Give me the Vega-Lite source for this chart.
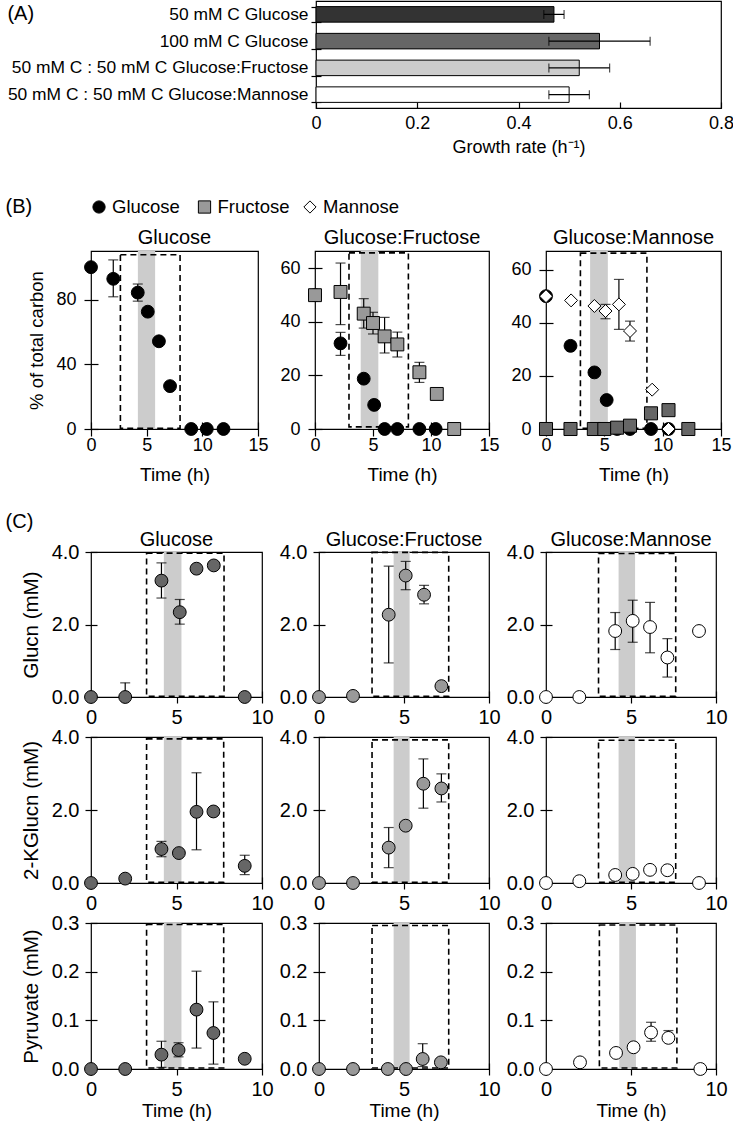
{
 "$schema": "https://vega.github.io/schema/vega-lite/v6.json",
 "padding": {"left": 5, "top": 0, "right": 0, "bottom": 0},
 "background": "white",
 "config": {
  "font": "Liberation Sans",
  "view": {"stroke": "black", "strokeWidth": 1.2},
  "axis": {"domain": false, "grid": false, "tickColor": "black", "tickWidth": 1.2, "labelColor": "black", "titleColor": "black", "titleFontWeight": "normal"},
  "title": {"fontWeight": "normal", "color": "black", "baseline": "bottom"}
 },
 "resolve": {"scale": {"fill": "independent", "shape": "independent", "size": "independent"}},
 "spacing": 40,
 "datasets": {
  "growth": [
   {"cond": "50 mM C Glucose", "rate": 0.47, "lo": 0.45, "hi": 0.49},
   {"cond": "100 mM C Glucose", "rate": 0.56, "lo": 0.46, "hi": 0.66},
   {"cond": "50 mM C : 50 mM C Glucose:Fructose", "rate": 0.52, "lo": 0.46, "hi": 0.58},
   {"cond": "50 mM C : 50 mM C Glucose:Mannose", "rate": 0.50, "lo": 0.46, "hi": 0.54}
  ],
  "legend": [{"s": "Glucose"}, {"s": "Fructose"}, {"s": "Mannose"}],
  "B": [
   {"p": "G", "s": "Glucose", "t": 0, "v": 100},
   {"p": "G", "s": "Glucose", "t": 2.0, "v": 92.8, "lo": 81.7, "hi": 104.5},
   {"p": "G", "s": "Glucose", "t": 4.2, "v": 84.3, "lo": 79, "hi": 89.6},
   {"p": "G", "s": "Glucose", "t": 5.1, "v": 72.5},
   {"p": "G", "s": "Glucose", "t": 6.1, "v": 54.2},
   {"p": "G", "s": "Glucose", "t": 7.1, "v": 26.5},
   {"p": "G", "s": "Glucose", "t": 9.0, "v": 0},
   {"p": "G", "s": "Glucose", "t": 10.4, "v": 0},
   {"p": "G", "s": "Glucose", "t": 11.9, "v": 0},
   {"p": "GF", "s": "Glucose", "t": 0, "v": 50},
   {"p": "GF", "s": "Glucose", "t": 2.2, "v": 32, "lo": 27.5, "hi": 36.1},
   {"p": "GF", "s": "Glucose", "t": 4.2, "v": 18.8},
   {"p": "GF", "s": "Glucose", "t": 5.1, "v": 9.0},
   {"p": "GF", "s": "Glucose", "t": 6.0, "v": 0},
   {"p": "GF", "s": "Glucose", "t": 7.1, "v": 0},
   {"p": "GF", "s": "Glucose", "t": 9.0, "v": 0},
   {"p": "GF", "s": "Glucose", "t": 10.4, "v": 0},
   {"p": "GF", "s": "Fructose", "t": 0, "v": 50},
   {"p": "GF", "s": "Fructose", "t": 2.2, "v": 51.2, "lo": 39, "hi": 62},
   {"p": "GF", "s": "Fructose", "t": 4.2, "v": 43.1, "lo": 37.7, "hi": 48.7},
   {"p": "GF", "s": "Fructose", "t": 5.0, "v": 39.6, "lo": 35.5, "hi": 43.6},
   {"p": "GF", "s": "Fructose", "t": 6.0, "v": 34.6, "lo": 28.4, "hi": 41.7},
   {"p": "GF", "s": "Fructose", "t": 7.1, "v": 31.6, "lo": 26.9, "hi": 36.2},
   {"p": "GF", "s": "Fructose", "t": 9.0, "v": 21.2, "lo": 17.4, "hi": 24.9},
   {"p": "GF", "s": "Fructose", "t": 10.5, "v": 13.1, "lo": 11.6, "hi": 14.6},
   {"p": "GF", "s": "Fructose", "t": 12.0, "v": 0},
   {"p": "GM", "s": "Glucose", "t": 0, "v": 50},
   {"p": "GM", "s": "Glucose", "t": 2.1, "v": 31.3},
   {"p": "GM", "s": "Glucose", "t": 4.15, "v": 21.3},
   {"p": "GM", "s": "Glucose", "t": 5.2, "v": 10.9},
   {"p": "GM", "s": "Glucose", "t": 6.1, "v": 0},
   {"p": "GM", "s": "Glucose", "t": 7.2, "v": 0},
   {"p": "GM", "s": "Glucose", "t": 9.0, "v": 0},
   {"p": "GM", "s": "Glucose", "t": 10.5, "v": 0},
   {"p": "GM", "s": "Fructose (G:M)", "t": 0, "v": 0},
   {"p": "GM", "s": "Fructose (G:M)", "t": 2.1, "v": 0},
   {"p": "GM", "s": "Fructose (G:M)", "t": 4.1, "v": 0},
   {"p": "GM", "s": "Fructose (G:M)", "t": 5.0, "v": 0},
   {"p": "GM", "s": "Fructose (G:M)", "t": 6.1, "v": 0.5},
   {"p": "GM", "s": "Fructose (G:M)", "t": 7.2, "v": 1.25},
   {"p": "GM", "s": "Fructose (G:M)", "t": 9.0, "v": 5.9},
   {"p": "GM", "s": "Fructose (G:M)", "t": 10.5, "v": 7.1},
   {"p": "GM", "s": "Fructose (G:M)", "t": 12.2, "v": 0},
   {"p": "GM", "s": "Mannose", "t": 0, "v": 50},
   {"p": "GM", "s": "Mannose", "t": 2.15, "v": 48.4},
   {"p": "GM", "s": "Mannose", "t": 4.15, "v": 46.3},
   {"p": "GM", "s": "Mannose", "t": 5.1, "v": 44.4, "lo": 41.5, "hi": 46.9},
   {"p": "GM", "s": "Mannose", "t": 6.25, "v": 46.9, "lo": 37.5, "hi": 56.3},
   {"p": "GM", "s": "Mannose", "t": 7.2, "v": 36.9, "lo": 33.1, "hi": 40.6},
   {"p": "GM", "s": "Mannose", "t": 9.1, "v": 14.8},
   {"p": "GM", "s": "Mannose", "t": 10.5, "v": 0}
  ],
  "Bbox": [
   {"p": "G", "b1": 4.21, "b2": 5.76, "d1": 2.64, "d2": 8.0, "e1": 0.5, "e2": 107.7},
   {"p": "GF", "b1": 3.94, "b2": 5.46, "d1": 2.93, "d2": 8.05, "e1": 0.8, "e2": 65.8},
   {"p": "GM", "b1": 3.78, "b2": 5.3, "d1": 2.95, "d2": 8.65, "e1": 0.3, "e2": 66.2}
  ],
  "C": [
   {"c": "G", "r": "Glucn", "t": 0, "v": 0},
   {"c": "G", "r": "Glucn", "t": 2.0, "v": 0, "lo": 0, "hi": 0.39},
   {"c": "G", "r": "Glucn", "t": 4.12, "v": 3.21, "lo": 2.73, "hi": 3.7},
   {"c": "G", "r": "Glucn", "t": 5.19, "v": 2.34, "lo": 2.01, "hi": 2.69},
   {"c": "G", "r": "Glucn", "t": 6.17, "v": 3.54},
   {"c": "G", "r": "Glucn", "t": 7.18, "v": 3.63},
   {"c": "G", "r": "Glucn", "t": 8.99, "v": 0},
   {"c": "GF", "r": "Glucn", "t": 0, "v": 0},
   {"c": "GF", "r": "Glucn", "t": 2.0, "v": 0.03},
   {"c": "GF", "r": "Glucn", "t": 4.1, "v": 2.27, "lo": 0.94, "hi": 3.61},
   {"c": "GF", "r": "Glucn", "t": 5.1, "v": 3.35, "lo": 2.96, "hi": 3.74},
   {"c": "GF", "r": "Glucn", "t": 6.18, "v": 2.82, "lo": 2.57, "hi": 3.08},
   {"c": "GF", "r": "Glucn", "t": 7.2, "v": 0.3},
   {"c": "GM", "r": "Glucn", "t": 0, "v": 0},
   {"c": "GM", "r": "Glucn", "t": 1.96, "v": 0},
   {"c": "GM", "r": "Glucn", "t": 4.07, "v": 1.82, "lo": 1.31, "hi": 2.33},
   {"c": "GM", "r": "Glucn", "t": 5.1, "v": 2.1, "lo": 1.51, "hi": 2.67},
   {"c": "GM", "r": "Glucn", "t": 6.12, "v": 1.93, "lo": 1.22, "hi": 2.61},
   {"c": "GM", "r": "Glucn", "t": 7.14, "v": 1.09, "lo": 0.55, "hi": 1.61},
   {"c": "GM", "r": "Glucn", "t": 9.0, "v": 1.82},
   {"c": "G", "r": "KG", "t": 0, "v": 0},
   {"c": "G", "r": "KG", "t": 2.0, "v": 0.12},
   {"c": "G", "r": "KG", "t": 4.12, "v": 0.93, "lo": 0.72, "hi": 1.14},
   {"c": "G", "r": "KG", "t": 5.14, "v": 0.82},
   {"c": "G", "r": "KG", "t": 6.17, "v": 1.95, "lo": 0.91, "hi": 3.02},
   {"c": "G", "r": "KG", "t": 7.16, "v": 1.96},
   {"c": "G", "r": "KG", "t": 8.99, "v": 0.47, "lo": 0.23, "hi": 0.76},
   {"c": "GF", "r": "KG", "t": 0, "v": 0},
   {"c": "GF", "r": "KG", "t": 2.0, "v": 0},
   {"c": "GF", "r": "KG", "t": 4.1, "v": 0.97, "lo": 0.42, "hi": 1.52},
   {"c": "GF", "r": "KG", "t": 5.1, "v": 1.57},
   {"c": "GF", "r": "KG", "t": 6.14, "v": 2.72, "lo": 2.05, "hi": 3.4},
   {"c": "GF", "r": "KG", "t": 7.2, "v": 2.59, "lo": 2.22, "hi": 2.99},
   {"c": "GM", "r": "KG", "t": 0, "v": 0},
   {"c": "GM", "r": "KG", "t": 1.96, "v": 0.05},
   {"c": "GM", "r": "KG", "t": 4.07, "v": 0.22},
   {"c": "GM", "r": "KG", "t": 5.1, "v": 0.25},
   {"c": "GM", "r": "KG", "t": 6.12, "v": 0.36},
   {"c": "GM", "r": "KG", "t": 7.14, "v": 0.35},
   {"c": "GM", "r": "KG", "t": 9.0, "v": 0},
   {"c": "G", "r": "Pyr", "t": 0, "v": 0},
   {"c": "G", "r": "Pyr", "t": 2.0, "v": 0},
   {"c": "G", "r": "Pyr", "t": 4.12, "v": 0.0295, "lo": 0.0034, "hi": 0.057},
   {"c": "G", "r": "Pyr", "t": 5.12, "v": 0.039, "lo": 0.025, "hi": 0.054},
   {"c": "G", "r": "Pyr", "t": 6.17, "v": 0.122, "lo": 0.043, "hi": 0.201},
   {"c": "G", "r": "Pyr", "t": 7.16, "v": 0.074, "lo": 0.01, "hi": 0.138},
   {"c": "G", "r": "Pyr", "t": 8.99, "v": 0.021},
   {"c": "GF", "r": "Pyr", "t": 0, "v": 0},
   {"c": "GF", "r": "Pyr", "t": 2.0, "v": 0},
   {"c": "GF", "r": "Pyr", "t": 4.05, "v": 0},
   {"c": "GF", "r": "Pyr", "t": 5.12, "v": 0},
   {"c": "GF", "r": "Pyr", "t": 6.1, "v": 0.0206, "lo": 0.005, "hi": 0.052},
   {"c": "GF", "r": "Pyr", "t": 7.17, "v": 0.0137},
   {"c": "GM", "r": "Pyr", "t": 0, "v": 0},
   {"c": "GM", "r": "Pyr", "t": 2.0, "v": 0.0137},
   {"c": "GM", "r": "Pyr", "t": 4.12, "v": 0.033},
   {"c": "GM", "r": "Pyr", "t": 5.15, "v": 0.0446},
   {"c": "GM", "r": "Pyr", "t": 6.18, "v": 0.075, "lo": 0.057, "hi": 0.096},
   {"c": "GM", "r": "Pyr", "t": 7.2, "v": 0.064, "lo": 0.06, "hi": 0.079},
   {"c": "GM", "r": "Pyr", "t": 9.08, "v": 0}
  ],
  "Cbox": [
   {"c": "G", "r": "Glucn", "b1": 4.26, "b2": 5.29, "d1": 3.25, "d2": 7.78, "e1": 0.02, "e2": 3.97},
   {"c": "GF", "r": "Glucn", "b1": 4.39, "b2": 5.33, "d1": 3.12, "d2": 7.63, "e1": 0.02, "e2": 3.99},
   {"c": "GM", "r": "Glucn", "b1": 4.27, "b2": 5.24, "d1": 3.09, "d2": 7.63, "e1": 0.02, "e2": 3.96},
   {"c": "G", "r": "KG", "b1": 4.26, "b2": 5.29, "d1": 3.25, "d2": 7.76, "e1": 0.02, "e2": 3.95},
   {"c": "GF", "r": "KG", "b1": 4.39, "b2": 5.33, "d1": 3.12, "d2": 7.63, "e1": 0.02, "e2": 3.92},
   {"c": "GM", "r": "KG", "b1": 4.27, "b2": 5.24, "d1": 3.09, "d2": 7.63, "e1": 0.02, "e2": 3.91},
   {"c": "G", "r": "Pyr", "b1": 4.26, "b2": 5.29, "d1": 3.25, "d2": 7.76, "e1": 0.002, "e2": 0.297},
   {"c": "GF", "r": "Pyr", "b1": 4.39, "b2": 5.33, "d1": 3.12, "d2": 7.63, "e1": 0.002, "e2": 0.295},
   {"c": "GM", "r": "Pyr", "b1": 4.31, "b2": 5.29, "d1": 3.14, "d2": 7.7, "e1": 0.002, "e2": 0.296}
  ]
 },
 "vconcat": [
  {
   "title": {"text": "(A)", "anchor": "start", "frame": "bounds", "fontSize": 20, "offset": -24},
   "spacing": 1,
   "data": {"name": "growth"},
   "hconcat": [
    {
     "width": 200, "height": 107,
     "view": {"stroke": null},
     "mark": {"type": "point", "opacity": 0},
     "encoding": {"y": {"field": "cond", "type": "nominal", "sort": null, "title": null, "scale": {"paddingInner": 0.42, "paddingOuter": 0.21}, "axis": {"orient": "right", "title": null, "labelAlign": "right", "ticks": false, "tickSize": 0, "labelPadding": 17, "labelFontSize": 17.4, "labelLimit": 400}}}
    },
    {
     "width": 405, "height": 107,
     "layer": [
      {"mark": {"type": "bar", "stroke": "black", "strokeWidth": 1},
       "encoding": {
        "y": {"field": "cond", "type": "nominal", "sort": null, "title": null, "scale": {"paddingInner": 0.42, "paddingOuter": 0.21}, "axis": {"title": null, "labels": false, "tickBand": "extent", "offset": -5, "tickSize": 10}},
        "x": {"field": "rate", "type": "quantitative", "title": "Growth rate (h⁻¹)", "scale": {"domain": [0, 0.8], "nice": false}, "axis": {"values": [0, 0.2, 0.4, 0.6, 0.8], "format": "~g", "labelFlush": false, "offset": -6, "tickSize": 6, "labelPadding": 6, "labelFontSize": 18, "title": "Growth rate (h⁻¹)", "titleFontSize": 18, "titlePadding": 6}},
        "fill": {"field": "cond", "type": "nominal", "sort": null, "scale": {"range": ["#333333", "#666666", "#cccccc", "#ffffff"]}, "legend": null}
       }},
      {"mark": {"type": "errorbar", "ticks": {"size": 9}, "color": "black", "thickness": 1.2},
       "encoding": {"y": {"field": "cond", "type": "nominal", "sort": null, "title": null}, "x": {"field": "lo", "type": "quantitative", "title": "Growth rate (h⁻¹)"}, "x2": {"field": "hi"}}}
     ]
    }
   ]
  },
  {
   "spacing": 27,
   "resolve": {"scale": {"fill": "independent", "shape": "independent", "size": "independent"}},
   "vconcat": [
    {
     "spacing": 10,
     "resolve": {"scale": {"fill": "independent", "shape": "independent", "size": "independent"}},
     "vconcat": [
      {
       "width": 227, "height": 20,
       "view": {"stroke": null},
       "title": {"text": "(B)", "orient": "left", "angle": 0, "align": "right", "baseline": "middle", "anchor": "middle", "offset": 32, "fontSize": 20},
       "data": {"name": "legend"},
       "encoding": {"x": {"field": "s", "type": "nominal", "sort": null, "title": null, "scale": {"type": "point", "padding": 0.076}, "axis": null}},
       "layer": [
        {"mark": {"type": "point", "filled": true, "stroke": "black", "strokeWidth": 1, "opacity": 1, "size": 150},
         "encoding": {
          "fill": {"field": "s", "type": "nominal", "scale": {"domain": ["Glucose", "Fructose", "Mannose"], "range": ["#000000", "#999999", "#ffffff"]}, "legend": null},
          "shape": {"field": "s", "type": "nominal", "scale": {"domain": ["Glucose", "Fructose", "Mannose"], "range": ["circle", "square", "diamond"]}, "legend": null}}},
        {"mark": {"type": "text", "align": "left", "baseline": "middle", "dx": 13, "fontSize": 18.5, "color": "black"},
         "encoding": {"text": {"field": "s", "type": "nominal"}}}
       ]
      },
      {
       "spacing": 10,
       "hconcat": [
        {
         "width": 167, "height": 178,
         "title": {"text": "Glucose", "fontSize": 20, "offset": 3},
         "layer": [
          {"data": {"name": "Bbox"}, "transform": [{"filter": "datum.p == 'G'"}], "mark": {"type": "rect", "color": "#cccccc"},
           "encoding": {"x": {"field": "b1", "type": "quantitative", "title": "Time (h)", "scale": {"domain": [0, 15], "nice": false}, "axis": {"values": [0, 5, 10, 15], "labelFlush": false, "offset": -7, "tickSize": 14, "labelPadding": 0, "labelFontSize": 18, "title": "Time (h)", "titleFontSize": 19, "titlePadding": 11}}, "x2": {"field": "b2"}}},
          {"data": {"name": "Bbox"}, "transform": [{"filter": "datum.p == 'G'"}], "mark": {"type": "rect", "fillOpacity": 0, "stroke": "black", "strokeWidth": 1.6, "strokeDash": [6, 4]},
           "encoding": {"x": {"field": "d1", "type": "quantitative", "title": "Time (h)"}, "x2": {"field": "d2"}, "y": {"field": "e1", "type": "quantitative", "title": "% of total carbon", "scale": {"domain": [0, 110], "nice": false}, "axis": {"values": [0, 20, 40, 60, 80, 100], "offset": -7, "tickSize": 14, "labelPadding": 8, "labelFontSize": 18, "title": "% of total carbon", "titleFontSize": 18.5, "titlePadding": 9}}, "y2": {"field": "e2"}}},
          {"data": {"name": "B"}, "transform": [{"filter": "datum.p == 'G' && isValid(datum.lo)"}], "mark": {"type": "errorbar", "ticks": {"size": 10}, "color": "black", "thickness": 1.2},
           "encoding": {"x": {"field": "t", "type": "quantitative", "title": "Time (h)"}, "y": {"field": "lo", "type": "quantitative", "title": "% of total carbon"}, "y2": {"field": "hi"}}},
          {"data": {"name": "B"}, "transform": [{"filter": "datum.p == 'G'"}], "mark": {"type": "point", "filled": true, "stroke": "black", "strokeWidth": 1, "opacity": 1},
           "encoding": {"x": {"field": "t", "type": "quantitative", "title": "Time (h)"}, "y": {"field": "v", "type": "quantitative", "title": "% of total carbon"},
            "size": {"field": "s", "type": "nominal", "scale": {"domain": ["Glucose", "Fructose", "Mannose", "Fructose (G:M)"], "range": [165, 170, 260, 170]}, "legend": null},
            "fill": {"field": "s", "type": "nominal", "scale": {"domain": ["Glucose", "Fructose", "Mannose", "Fructose (G:M)"], "range": ["#000000", "#999999", "#ffffff", "#666666"]}, "legend": null},
            "shape": {"field": "s", "type": "nominal", "scale": {"domain": ["Glucose", "Fructose", "Mannose", "Fructose (G:M)"], "range": ["circle", "square", "diamond", "square"]}, "legend": null}}}
         ]
        },
        {
         "width": 174, "height": 178,
         "title": {"text": "Glucose:Fructose", "fontSize": 20, "offset": 3},
         "layer": [
          {"data": {"name": "Bbox"}, "transform": [{"filter": "datum.p == 'GF'"}], "mark": {"type": "rect", "color": "#cccccc"},
           "encoding": {"x": {"field": "b1", "type": "quantitative", "title": "Time (h)", "scale": {"domain": [0, 15], "nice": false}, "axis": {"values": [0, 5, 10, 15], "labelFlush": false, "offset": -7, "tickSize": 14, "labelPadding": 0, "labelFontSize": 18, "title": "Time (h)", "titleFontSize": 19, "titlePadding": 11}}, "x2": {"field": "b2"}}},
          {"data": {"name": "Bbox"}, "transform": [{"filter": "datum.p == 'GF'"}], "mark": {"type": "rect", "fillOpacity": 0, "stroke": "black", "strokeWidth": 1.6, "strokeDash": [6, 4]},
           "encoding": {"x": {"field": "d1", "type": "quantitative", "title": "Time (h)"}, "x2": {"field": "d2"}, "y": {"field": "e1", "type": "quantitative", "title": null, "scale": {"domain": [0, 66.5], "nice": false}, "axis": {"values": [0, 10, 20, 30, 40, 50, 60], "offset": -7, "tickSize": 14, "labelPadding": 8, "labelFontSize": 18, "title": null}}, "y2": {"field": "e2"}}},
          {"data": {"name": "B"}, "transform": [{"filter": "datum.p == 'GF' && isValid(datum.lo)"}], "mark": {"type": "errorbar", "ticks": {"size": 10}, "color": "black", "thickness": 1.2},
           "encoding": {"x": {"field": "t", "type": "quantitative", "title": "Time (h)"}, "y": {"field": "lo", "type": "quantitative", "title": null}, "y2": {"field": "hi"}}},
          {"data": {"name": "B"}, "transform": [{"filter": "datum.p == 'GF'"}], "mark": {"type": "point", "filled": true, "stroke": "black", "strokeWidth": 1, "opacity": 1},
           "encoding": {"x": {"field": "t", "type": "quantitative", "title": "Time (h)"}, "y": {"field": "v", "type": "quantitative", "title": null},
            "size": {"field": "s", "type": "nominal", "scale": {"domain": ["Glucose", "Fructose", "Mannose", "Fructose (G:M)"], "range": [165, 170, 260, 170]}, "legend": null},
            "fill": {"field": "s", "type": "nominal", "scale": {"domain": ["Glucose", "Fructose", "Mannose", "Fructose (G:M)"], "range": ["#000000", "#999999", "#ffffff", "#666666"]}, "legend": null},
            "shape": {"field": "s", "type": "nominal", "scale": {"domain": ["Glucose", "Fructose", "Mannose", "Fructose (G:M)"], "range": ["circle", "square", "diamond", "square"]}, "legend": null}}}
         ]
        },
        {
         "width": 175, "height": 178,
         "title": {"text": "Glucose:Mannose", "fontSize": 20, "offset": 3},
         "layer": [
          {"data": {"name": "Bbox"}, "transform": [{"filter": "datum.p == 'GM'"}], "mark": {"type": "rect", "color": "#cccccc"},
           "encoding": {"x": {"field": "b1", "type": "quantitative", "title": "Time (h)", "scale": {"domain": [0, 15], "nice": false}, "axis": {"values": [0, 5, 10, 15], "labelFlush": false, "offset": -7, "tickSize": 14, "labelPadding": 0, "labelFontSize": 18, "title": "Time (h)", "titleFontSize": 19, "titlePadding": 11}}, "x2": {"field": "b2"}}},
          {"data": {"name": "Bbox"}, "transform": [{"filter": "datum.p == 'GM'"}], "mark": {"type": "rect", "fillOpacity": 0, "stroke": "black", "strokeWidth": 1.6, "strokeDash": [6, 4]},
           "encoding": {"x": {"field": "d1", "type": "quantitative", "title": "Time (h)"}, "x2": {"field": "d2"}, "y": {"field": "e1", "type": "quantitative", "title": null, "scale": {"domain": [0, 67], "nice": false}, "axis": {"values": [0, 10, 20, 30, 40, 50, 60], "offset": -7, "tickSize": 14, "labelPadding": 8, "labelFontSize": 18, "title": null}}, "y2": {"field": "e2"}}},
          {"data": {"name": "B"}, "transform": [{"filter": "datum.p == 'GM' && isValid(datum.lo)"}], "mark": {"type": "errorbar", "ticks": {"size": 10}, "color": "black", "thickness": 1.2},
           "encoding": {"x": {"field": "t", "type": "quantitative", "title": "Time (h)"}, "y": {"field": "lo", "type": "quantitative", "title": null}, "y2": {"field": "hi"}}},
          {"data": {"name": "B"}, "transform": [{"filter": "datum.p == 'GM'"}], "mark": {"type": "point", "filled": true, "stroke": "black", "strokeWidth": 1, "opacity": 1},
           "encoding": {"x": {"field": "t", "type": "quantitative", "title": "Time (h)"}, "y": {"field": "v", "type": "quantitative", "title": null},
            "size": {"field": "s", "type": "nominal", "scale": {"domain": ["Glucose", "Fructose", "Mannose", "Fructose (G:M)"], "range": [165, 170, 260, 170]}, "legend": null},
            "fill": {"field": "s", "type": "nominal", "scale": {"domain": ["Glucose", "Fructose", "Mannose", "Fructose (G:M)"], "range": ["#000000", "#999999", "#ffffff", "#666666"]}, "legend": null},
            "shape": {"field": "s", "type": "nominal", "scale": {"domain": ["Glucose", "Fructose", "Mannose", "Fructose (G:M)"], "range": ["circle", "square", "diamond", "square"]}, "legend": null}}}
         ]
        }
       ]
      }
     ]
    },
    {
     "title": {"text": "(C)", "anchor": "start", "frame": "bounds", "fontSize": 20, "offset": 0, "dx": -15, "dy": 3},
     "columns": 3,
     "spacing": {"row": -2, "column": 4},
     "align": "each",
     "concat": [
      {"width": 171, "height": 145, "title": {"text": "Glucose", "fontSize": 20, "offset": -8},
       "layer": [
        {"data": {"name": "Cbox"}, "transform": [{"filter": "datum.c == 'G' && datum.r == 'Glucn'"}], "mark": {"type": "rect", "color": "#cccccc"},
         "encoding": {"x": {"field": "b1", "type": "quantitative", "title": null, "scale": {"domain": [0, 10], "nice": false}, "axis": {"values": [0, 5, 10], "labelFlush": false, "offset": -6, "tickSize": 12, "labelPadding": 4, "labelFontSize": 20, "title": null}}, "x2": {"field": "b2"}}},
        {"data": {"name": "Cbox"}, "transform": [{"filter": "datum.c == 'G' && datum.r == 'Glucn'"}], "mark": {"type": "rect", "fillOpacity": 0, "stroke": "black", "strokeWidth": 1.6, "strokeDash": [6, 4]},
         "encoding": {"x": {"field": "d1", "type": "quantitative", "title": null}, "x2": {"field": "d2"}, "y": {"field": "e1", "type": "quantitative", "title": "Glucn (mM)", "scale": {"domain": [0, 4], "nice": false}, "axis": {"values": [0, 1, 2, 3, 4], "format": ".1f", "offset": -6, "tickSize": 12, "labelPadding": 6, "labelFontSize": 20, "title": "Glucn (mM)", "titleFontSize": 20.5, "titlePadding": 10}}, "y2": {"field": "e2"}}},
        {"data": {"name": "C"}, "transform": [{"filter": "datum.c == 'G' && datum.r == 'Glucn' && isValid(datum.lo)"}], "mark": {"type": "errorbar", "ticks": {"size": 10}, "color": "black", "thickness": 1.2},
         "encoding": {"x": {"field": "t", "type": "quantitative", "title": null}, "y": {"field": "lo", "type": "quantitative", "title": "Glucn (mM)"}, "y2": {"field": "hi"}}},
        {"data": {"name": "C"}, "transform": [{"filter": "datum.c == 'G' && datum.r == 'Glucn'"}], "mark": {"type": "point", "shape": "circle", "filled": true, "fill": "#666666", "stroke": "black", "strokeWidth": 1, "size": 165, "opacity": 1},
         "encoding": {"x": {"field": "t", "type": "quantitative", "title": null}, "y": {"field": "v", "type": "quantitative", "title": "Glucn (mM)"}}}
       ]},
      {"width": 170, "height": 145, "title": {"text": "Glucose:Fructose", "fontSize": 20, "offset": -8},
       "layer": [
        {"data": {"name": "Cbox"}, "transform": [{"filter": "datum.c == 'GF' && datum.r == 'Glucn'"}], "mark": {"type": "rect", "color": "#cccccc"},
         "encoding": {"x": {"field": "b1", "type": "quantitative", "title": null, "scale": {"domain": [0, 10], "nice": false}, "axis": {"values": [0, 5, 10], "labelFlush": false, "offset": -6, "tickSize": 12, "labelPadding": 4, "labelFontSize": 20, "title": null}}, "x2": {"field": "b2"}}},
        {"data": {"name": "Cbox"}, "transform": [{"filter": "datum.c == 'GF' && datum.r == 'Glucn'"}], "mark": {"type": "rect", "fillOpacity": 0, "stroke": "black", "strokeWidth": 1.6, "strokeDash": [6, 4]},
         "encoding": {"x": {"field": "d1", "type": "quantitative", "title": null}, "x2": {"field": "d2"}, "y": {"field": "e1", "type": "quantitative", "title": null, "scale": {"domain": [0, 4], "nice": false}, "axis": {"values": [0, 1, 2, 3, 4], "format": ".1f", "offset": -6, "tickSize": 12, "labelPadding": 6, "labelFontSize": 20, "title": null}}, "y2": {"field": "e2"}}},
        {"data": {"name": "C"}, "transform": [{"filter": "datum.c == 'GF' && datum.r == 'Glucn' && isValid(datum.lo)"}], "mark": {"type": "errorbar", "ticks": {"size": 10}, "color": "black", "thickness": 1.2},
         "encoding": {"x": {"field": "t", "type": "quantitative", "title": null}, "y": {"field": "lo", "type": "quantitative", "title": null}, "y2": {"field": "hi"}}},
        {"data": {"name": "C"}, "transform": [{"filter": "datum.c == 'GF' && datum.r == 'Glucn'"}], "mark": {"type": "point", "shape": "circle", "filled": true, "fill": "#999999", "stroke": "black", "strokeWidth": 1, "size": 165, "opacity": 1},
         "encoding": {"x": {"field": "t", "type": "quantitative", "title": null}, "y": {"field": "v", "type": "quantitative", "title": null}}}
       ]},
      {"width": 170, "height": 145, "title": {"text": "Glucose:Mannose", "fontSize": 20, "offset": -8},
       "layer": [
        {"data": {"name": "Cbox"}, "transform": [{"filter": "datum.c == 'GM' && datum.r == 'Glucn'"}], "mark": {"type": "rect", "color": "#cccccc"},
         "encoding": {"x": {"field": "b1", "type": "quantitative", "title": null, "scale": {"domain": [0, 10], "nice": false}, "axis": {"values": [0, 5, 10], "labelFlush": false, "offset": -6, "tickSize": 12, "labelPadding": 4, "labelFontSize": 20, "title": null}}, "x2": {"field": "b2"}}},
        {"data": {"name": "Cbox"}, "transform": [{"filter": "datum.c == 'GM' && datum.r == 'Glucn'"}], "mark": {"type": "rect", "fillOpacity": 0, "stroke": "black", "strokeWidth": 1.6, "strokeDash": [6, 4]},
         "encoding": {"x": {"field": "d1", "type": "quantitative", "title": null}, "x2": {"field": "d2"}, "y": {"field": "e1", "type": "quantitative", "title": null, "scale": {"domain": [0, 4], "nice": false}, "axis": {"values": [0, 1, 2, 3, 4], "format": ".1f", "offset": -6, "tickSize": 12, "labelPadding": 6, "labelFontSize": 20, "title": null}}, "y2": {"field": "e2"}}},
        {"data": {"name": "C"}, "transform": [{"filter": "datum.c == 'GM' && datum.r == 'Glucn' && isValid(datum.lo)"}], "mark": {"type": "errorbar", "ticks": {"size": 10}, "color": "black", "thickness": 1.2},
         "encoding": {"x": {"field": "t", "type": "quantitative", "title": null}, "y": {"field": "lo", "type": "quantitative", "title": null}, "y2": {"field": "hi"}}},
        {"data": {"name": "C"}, "transform": [{"filter": "datum.c == 'GM' && datum.r == 'Glucn'"}], "mark": {"type": "point", "shape": "circle", "filled": true, "fill": "#ffffff", "stroke": "black", "strokeWidth": 1, "size": 165, "opacity": 1},
         "encoding": {"x": {"field": "t", "type": "quantitative", "title": null}, "y": {"field": "v", "type": "quantitative", "title": null}}}
       ]},
      {"width": 171, "height": 146,
       "layer": [
        {"data": {"name": "Cbox"}, "transform": [{"filter": "datum.c == 'G' && datum.r == 'KG'"}], "mark": {"type": "rect", "color": "#cccccc"},
         "encoding": {"x": {"field": "b1", "type": "quantitative", "title": null, "scale": {"domain": [0, 10], "nice": false}, "axis": {"values": [0, 5, 10], "labelFlush": false, "offset": -6, "tickSize": 12, "labelPadding": 4, "labelFontSize": 20, "title": null}}, "x2": {"field": "b2"}}},
        {"data": {"name": "Cbox"}, "transform": [{"filter": "datum.c == 'G' && datum.r == 'KG'"}], "mark": {"type": "rect", "fillOpacity": 0, "stroke": "black", "strokeWidth": 1.6, "strokeDash": [6, 4]},
         "encoding": {"x": {"field": "d1", "type": "quantitative", "title": null}, "x2": {"field": "d2"}, "y": {"field": "e1", "type": "quantitative", "title": "2-KGlucn (mM)", "scale": {"domain": [0, 4], "nice": false}, "axis": {"values": [0, 1, 2, 3, 4], "format": ".1f", "offset": -6, "tickSize": 12, "labelPadding": 6, "labelFontSize": 20, "title": "2-KGlucn (mM)", "titleFontSize": 20.5, "titlePadding": 10}}, "y2": {"field": "e2"}}},
        {"data": {"name": "C"}, "transform": [{"filter": "datum.c == 'G' && datum.r == 'KG' && isValid(datum.lo)"}], "mark": {"type": "errorbar", "ticks": {"size": 10}, "color": "black", "thickness": 1.2},
         "encoding": {"x": {"field": "t", "type": "quantitative", "title": null}, "y": {"field": "lo", "type": "quantitative", "title": "2-KGlucn (mM)"}, "y2": {"field": "hi"}}},
        {"data": {"name": "C"}, "transform": [{"filter": "datum.c == 'G' && datum.r == 'KG'"}], "mark": {"type": "point", "shape": "circle", "filled": true, "fill": "#666666", "stroke": "black", "strokeWidth": 1, "size": 165, "opacity": 1},
         "encoding": {"x": {"field": "t", "type": "quantitative", "title": null}, "y": {"field": "v", "type": "quantitative", "title": "2-KGlucn (mM)"}}}
       ]},
      {"width": 170, "height": 146,
       "layer": [
        {"data": {"name": "Cbox"}, "transform": [{"filter": "datum.c == 'GF' && datum.r == 'KG'"}], "mark": {"type": "rect", "color": "#cccccc"},
         "encoding": {"x": {"field": "b1", "type": "quantitative", "title": null, "scale": {"domain": [0, 10], "nice": false}, "axis": {"values": [0, 5, 10], "labelFlush": false, "offset": -6, "tickSize": 12, "labelPadding": 4, "labelFontSize": 20, "title": null}}, "x2": {"field": "b2"}}},
        {"data": {"name": "Cbox"}, "transform": [{"filter": "datum.c == 'GF' && datum.r == 'KG'"}], "mark": {"type": "rect", "fillOpacity": 0, "stroke": "black", "strokeWidth": 1.6, "strokeDash": [6, 4]},
         "encoding": {"x": {"field": "d1", "type": "quantitative", "title": null}, "x2": {"field": "d2"}, "y": {"field": "e1", "type": "quantitative", "title": null, "scale": {"domain": [0, 4], "nice": false}, "axis": {"values": [0, 1, 2, 3, 4], "format": ".1f", "offset": -6, "tickSize": 12, "labelPadding": 6, "labelFontSize": 20, "title": null}}, "y2": {"field": "e2"}}},
        {"data": {"name": "C"}, "transform": [{"filter": "datum.c == 'GF' && datum.r == 'KG' && isValid(datum.lo)"}], "mark": {"type": "errorbar", "ticks": {"size": 10}, "color": "black", "thickness": 1.2},
         "encoding": {"x": {"field": "t", "type": "quantitative", "title": null}, "y": {"field": "lo", "type": "quantitative", "title": null}, "y2": {"field": "hi"}}},
        {"data": {"name": "C"}, "transform": [{"filter": "datum.c == 'GF' && datum.r == 'KG'"}], "mark": {"type": "point", "shape": "circle", "filled": true, "fill": "#999999", "stroke": "black", "strokeWidth": 1, "size": 165, "opacity": 1},
         "encoding": {"x": {"field": "t", "type": "quantitative", "title": null}, "y": {"field": "v", "type": "quantitative", "title": null}}}
       ]},
      {"width": 170, "height": 146,
       "layer": [
        {"data": {"name": "Cbox"}, "transform": [{"filter": "datum.c == 'GM' && datum.r == 'KG'"}], "mark": {"type": "rect", "color": "#cccccc"},
         "encoding": {"x": {"field": "b1", "type": "quantitative", "title": null, "scale": {"domain": [0, 10], "nice": false}, "axis": {"values": [0, 5, 10], "labelFlush": false, "offset": -6, "tickSize": 12, "labelPadding": 4, "labelFontSize": 20, "title": null}}, "x2": {"field": "b2"}}},
        {"data": {"name": "Cbox"}, "transform": [{"filter": "datum.c == 'GM' && datum.r == 'KG'"}], "mark": {"type": "rect", "fillOpacity": 0, "stroke": "black", "strokeWidth": 1.6, "strokeDash": [6, 4]},
         "encoding": {"x": {"field": "d1", "type": "quantitative", "title": null}, "x2": {"field": "d2"}, "y": {"field": "e1", "type": "quantitative", "title": null, "scale": {"domain": [0, 4], "nice": false}, "axis": {"values": [0, 1, 2, 3, 4], "format": ".1f", "offset": -6, "tickSize": 12, "labelPadding": 6, "labelFontSize": 20, "title": null}}, "y2": {"field": "e2"}}},
        {"data": {"name": "C"}, "transform": [{"filter": "datum.c == 'GM' && datum.r == 'KG' && isValid(datum.lo)"}], "mark": {"type": "errorbar", "ticks": {"size": 10}, "color": "black", "thickness": 1.2},
         "encoding": {"x": {"field": "t", "type": "quantitative", "title": null}, "y": {"field": "lo", "type": "quantitative", "title": null}, "y2": {"field": "hi"}}},
        {"data": {"name": "C"}, "transform": [{"filter": "datum.c == 'GM' && datum.r == 'KG'"}], "mark": {"type": "point", "shape": "circle", "filled": true, "fill": "#ffffff", "stroke": "black", "strokeWidth": 1, "size": 165, "opacity": 1},
         "encoding": {"x": {"field": "t", "type": "quantitative", "title": null}, "y": {"field": "v", "type": "quantitative", "title": null}}}
       ]},
      {"width": 171, "height": 146,
       "layer": [
        {"data": {"name": "Cbox"}, "transform": [{"filter": "datum.c == 'G' && datum.r == 'Pyr'"}], "mark": {"type": "rect", "color": "#cccccc"},
         "encoding": {"x": {"field": "b1", "type": "quantitative", "title": "Time (h)", "scale": {"domain": [0, 10], "nice": false}, "axis": {"values": [0, 5, 10], "labelFlush": false, "offset": -6, "tickSize": 12, "labelPadding": 4, "labelFontSize": 20, "title": "Time (h)", "titleFontSize": 19, "titlePadding": 2}}, "x2": {"field": "b2"}}},
        {"data": {"name": "Cbox"}, "transform": [{"filter": "datum.c == 'G' && datum.r == 'Pyr'"}], "mark": {"type": "rect", "fillOpacity": 0, "stroke": "black", "strokeWidth": 1.6, "strokeDash": [6, 4]},
         "encoding": {"x": {"field": "d1", "type": "quantitative", "title": "Time (h)"}, "x2": {"field": "d2"}, "y": {"field": "e1", "type": "quantitative", "title": "Pyruvate (mM)", "scale": {"domain": [0, 0.3], "nice": false}, "axis": {"values": [0, 0.1, 0.2, 0.3], "format": ".1f", "offset": -6, "tickSize": 12, "labelPadding": 6, "labelFontSize": 20, "title": "Pyruvate (mM)", "titleFontSize": 20.5, "titlePadding": 10}}, "y2": {"field": "e2"}}},
        {"data": {"name": "C"}, "transform": [{"filter": "datum.c == 'G' && datum.r == 'Pyr' && isValid(datum.lo)"}], "mark": {"type": "errorbar", "ticks": {"size": 10}, "color": "black", "thickness": 1.2},
         "encoding": {"x": {"field": "t", "type": "quantitative", "title": "Time (h)"}, "y": {"field": "lo", "type": "quantitative", "title": "Pyruvate (mM)"}, "y2": {"field": "hi"}}},
        {"data": {"name": "C"}, "transform": [{"filter": "datum.c == 'G' && datum.r == 'Pyr'"}], "mark": {"type": "point", "shape": "circle", "filled": true, "fill": "#666666", "stroke": "black", "strokeWidth": 1, "size": 165, "opacity": 1},
         "encoding": {"x": {"field": "t", "type": "quantitative", "title": "Time (h)"}, "y": {"field": "v", "type": "quantitative", "title": "Pyruvate (mM)"}}}
       ]},
      {"width": 170, "height": 146,
       "layer": [
        {"data": {"name": "Cbox"}, "transform": [{"filter": "datum.c == 'GF' && datum.r == 'Pyr'"}], "mark": {"type": "rect", "color": "#cccccc"},
         "encoding": {"x": {"field": "b1", "type": "quantitative", "title": "Time (h)", "scale": {"domain": [0, 10], "nice": false}, "axis": {"values": [0, 5, 10], "labelFlush": false, "offset": -6, "tickSize": 12, "labelPadding": 4, "labelFontSize": 20, "title": "Time (h)", "titleFontSize": 19, "titlePadding": 2}}, "x2": {"field": "b2"}}},
        {"data": {"name": "Cbox"}, "transform": [{"filter": "datum.c == 'GF' && datum.r == 'Pyr'"}], "mark": {"type": "rect", "fillOpacity": 0, "stroke": "black", "strokeWidth": 1.6, "strokeDash": [6, 4]},
         "encoding": {"x": {"field": "d1", "type": "quantitative", "title": "Time (h)"}, "x2": {"field": "d2"}, "y": {"field": "e1", "type": "quantitative", "title": null, "scale": {"domain": [0, 0.3], "nice": false}, "axis": {"values": [0, 0.1, 0.2, 0.3], "format": ".1f", "offset": -6, "tickSize": 12, "labelPadding": 6, "labelFontSize": 20, "title": null}}, "y2": {"field": "e2"}}},
        {"data": {"name": "C"}, "transform": [{"filter": "datum.c == 'GF' && datum.r == 'Pyr' && isValid(datum.lo)"}], "mark": {"type": "errorbar", "ticks": {"size": 10}, "color": "black", "thickness": 1.2},
         "encoding": {"x": {"field": "t", "type": "quantitative", "title": "Time (h)"}, "y": {"field": "lo", "type": "quantitative", "title": null}, "y2": {"field": "hi"}}},
        {"data": {"name": "C"}, "transform": [{"filter": "datum.c == 'GF' && datum.r == 'Pyr'"}], "mark": {"type": "point", "shape": "circle", "filled": true, "fill": "#999999", "stroke": "black", "strokeWidth": 1, "size": 165, "opacity": 1},
         "encoding": {"x": {"field": "t", "type": "quantitative", "title": "Time (h)"}, "y": {"field": "v", "type": "quantitative", "title": null}}}
       ]},
      {"width": 170, "height": 146,
       "layer": [
        {"data": {"name": "Cbox"}, "transform": [{"filter": "datum.c == 'GM' && datum.r == 'Pyr'"}], "mark": {"type": "rect", "color": "#cccccc"},
         "encoding": {"x": {"field": "b1", "type": "quantitative", "title": "Time (h)", "scale": {"domain": [0, 10], "nice": false}, "axis": {"values": [0, 5, 10], "labelFlush": false, "offset": -6, "tickSize": 12, "labelPadding": 4, "labelFontSize": 20, "title": "Time (h)", "titleFontSize": 19, "titlePadding": 2}}, "x2": {"field": "b2"}}},
        {"data": {"name": "Cbox"}, "transform": [{"filter": "datum.c == 'GM' && datum.r == 'Pyr'"}], "mark": {"type": "rect", "fillOpacity": 0, "stroke": "black", "strokeWidth": 1.6, "strokeDash": [6, 4]},
         "encoding": {"x": {"field": "d1", "type": "quantitative", "title": "Time (h)"}, "x2": {"field": "d2"}, "y": {"field": "e1", "type": "quantitative", "title": null, "scale": {"domain": [0, 0.3], "nice": false}, "axis": {"values": [0, 0.1, 0.2, 0.3], "format": ".1f", "offset": -6, "tickSize": 12, "labelPadding": 6, "labelFontSize": 20, "title": null}}, "y2": {"field": "e2"}}},
        {"data": {"name": "C"}, "transform": [{"filter": "datum.c == 'GM' && datum.r == 'Pyr' && isValid(datum.lo)"}], "mark": {"type": "errorbar", "ticks": {"size": 10}, "color": "black", "thickness": 1.2},
         "encoding": {"x": {"field": "t", "type": "quantitative", "title": "Time (h)"}, "y": {"field": "lo", "type": "quantitative", "title": null}, "y2": {"field": "hi"}}},
        {"data": {"name": "C"}, "transform": [{"filter": "datum.c == 'GM' && datum.r == 'Pyr'"}], "mark": {"type": "point", "shape": "circle", "filled": true, "fill": "#ffffff", "stroke": "black", "strokeWidth": 1, "size": 165, "opacity": 1},
         "encoding": {"x": {"field": "t", "type": "quantitative", "title": "Time (h)"}, "y": {"field": "v", "type": "quantitative", "title": null}}}
       ]}
     ]
    }
   ]
  }
 ]
}
